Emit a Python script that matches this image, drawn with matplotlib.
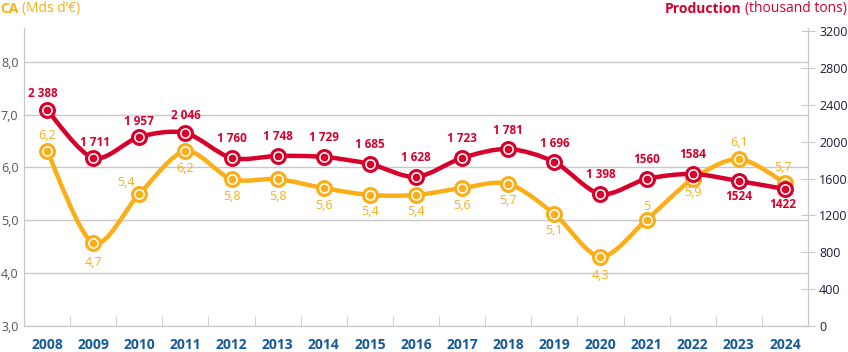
import numpy as np
import matplotlib
matplotlib.use('Agg')
import matplotlib.pyplot as plt
from matplotlib.path import Path
from matplotlib.patches import PathPatch

plt.rcParams['font.family'] = ['Open Sans', 'DejaVu Sans']

years = ['2008', '2009', '2010', '2011', '2012', '2013', '2014', '2015', '2016',
         '2017', '2018', '2019', '2020', '2021', '2022', '2023', '2024']

# position of the points as drawn (not quite the labelled values)
ca = [6.31, 4.57, 5.50, 6.31, 5.78, 5.78, 5.61, 5.48, 5.48, 5.61, 5.69, 5.12,
      4.31, 5.01, 5.78, 6.16, 5.71]
prod = [2343, 1823, 2051, 2094, 1823, 1845, 1834, 1758, 1617, 1823, 1920, 1779,
        1432, 1595, 1649, 1573, 1486]

ca_labels = ['6,2', '4,7', '5,4', '6,2', '5,8', '5,8', '5,6', '5,4', '5,4', '5,6',
             '5,7', '5,1', '4,3', '5', '5,9', '6,1', '5,7']
prod_labels = ['2 388', '1 711', '1 957', '2 046', '1 760', '1 748', '1 729', '1 685',
               '1 628', '1 723', '1 781', '1 696', '1 398', '1560', '1584', '1524', '1422']

ORANGE = '#fbae17'
RED = '#d7002b'
GRID = '#c8c8c8'


def smooth(x, y, k=0.9):
    # catmull-rom style bezier through the points
    verts = [(x[0], y[0])]
    codes = [Path.MOVETO]
    n = len(x)
    for i in range(n - 1):
        a = max(i - 1, 0)
        d = min(i + 2, n - 1)
        c1 = (x[i] + (x[i + 1] - x[a]) * k / 6, y[i] + (y[i + 1] - y[a]) * k / 6)
        c2 = (x[i + 1] - (x[d] - x[i]) * k / 6, y[i + 1] - (y[d] - y[i]) * k / 6)
        verts += [c1, c2, (x[i + 1], y[i + 1])]
        codes += [Path.CURVE4] * 3
    return Path(verts, codes)


fig = plt.figure(figsize=(8.48, 3.52), dpi=100)
ax = fig.add_axes([0.0283, 0.0739, 0.9245, 0.8466])
ax2 = ax.twinx()

xs = np.arange(len(years))

ax.add_patch(PathPatch(smooth(xs, ca), fill=False, ec=ORANGE, lw=3.2,
                       capstyle='round', joinstyle='round', zorder=3))
ax.plot(xs, ca, 'o', ms=10, mfc='white', mec=ORANGE, mew=2.2, zorder=4)
ax.plot(xs, ca, 'o', ms=4.5, color=ORANGE, zorder=5)

ax2.add_patch(PathPatch(smooth(xs, prod), fill=False, ec=RED, lw=3.2,
                        capstyle='round', joinstyle='round', zorder=3))
ax2.plot(xs, prod, 'o', ms=10, mfc='white', mec=RED, mew=2.2, zorder=4)
ax2.plot(xs, prod, 'o', ms=4.5, color=RED, zorder=5)

# label offsets in pixels
ca_off = [(0, 16), (0, -19), (-13, 11), (0, -17), (0, -17), (0, -17), (0, -17),
          (0, -17), (0, -17), (0, -17), (0, -17), (0, -17), (0, -19), (0, 13),
          (0, -13), (0, 17), (-2, 15)]
prod_off = [(-4, 17), (2, 15), (0, 15), (0, 17), (0, 19), (0, 19), (0, 19), (0, 19),
            (0, 19), (0, 19), (0, 19), (0, 19), (0, 19), (0, 19), (0, 19), (0, -16),
            (-2, -15)]

for i in range(len(years)):
    ax.annotate(ca_labels[i], (xs[i], ca[i]), xytext=ca_off[i], textcoords='offset pixels',
                ha='center', va='center', color=ORANGE, fontsize=9, zorder=6)
    ax2.annotate(prod_labels[i], (xs[i], prod[i]), xytext=prod_off[i],
                 textcoords='offset pixels', ha='center', va='center', color=RED,
                 fontsize=8.5, fontweight='bold', zorder=6)

ax.set_xlim(-0.45, 16.45)
ax.set_ylim(3, 8.64)
ax2.set_ylim(0, 3233)

ax.set_yticks([3, 4, 5, 6, 7, 8])
ax.set_yticklabels(['3,0', '4,0', '5,0', '6,0', '7,0', '8,0'])
ax.yaxis.grid(True, color=GRID, lw=1)
ax.set_axisbelow(True)
ax.tick_params(axis='y', length=0, pad=4, labelsize=9, labelcolor='#555555')

ax.set_xticks(xs)
ax.set_xticklabels(years)
ax.set_xticks(np.arange(-0.5, 16.6, 0.5), minor=True)
ax.tick_params(axis='x', which='both', direction='in', length=0, pad=9,
               labelsize=10, labelcolor='#15599a')
ax.tick_params(axis='x', which='minor', length=7, color=GRID)
for t in ax.get_xticklabels():
    t.set_fontweight('bold')

ax2.set_yticks(np.arange(0, 3201, 400))
ax2.tick_params(axis='y', direction='inout', length=10, color=GRID, pad=3,
                labelsize=9, labelcolor='#1c1c3a')

for a in (ax, ax2):
    a.spines['top'].set_visible(False)
    a.spines['left'].set_color(GRID)
    a.spines['right'].set_color(GRID)
    a.spines['bottom'].set_color(GRID)

fig.text(0.0, 0.975, 'CA', color=ORANGE, fontsize=10, fontweight='bold', va='center')
fig.text(0.026, 0.975, "(Mds d’€)", color=ORANGE, fontsize=10, va='center')
t2 = fig.text(0.999, 0.975, '(thousand tons)', color=RED, fontsize=10, va='center', ha='right')
fig.canvas.draw()
bb = t2.get_window_extent()
fig.text((bb.x0 - 4) / fig.bbox.width, 0.975, 'Production', color=RED, fontsize=10,
         fontweight='bold', va='center', ha='right')

fig.savefig('out.png', dpi=100)
